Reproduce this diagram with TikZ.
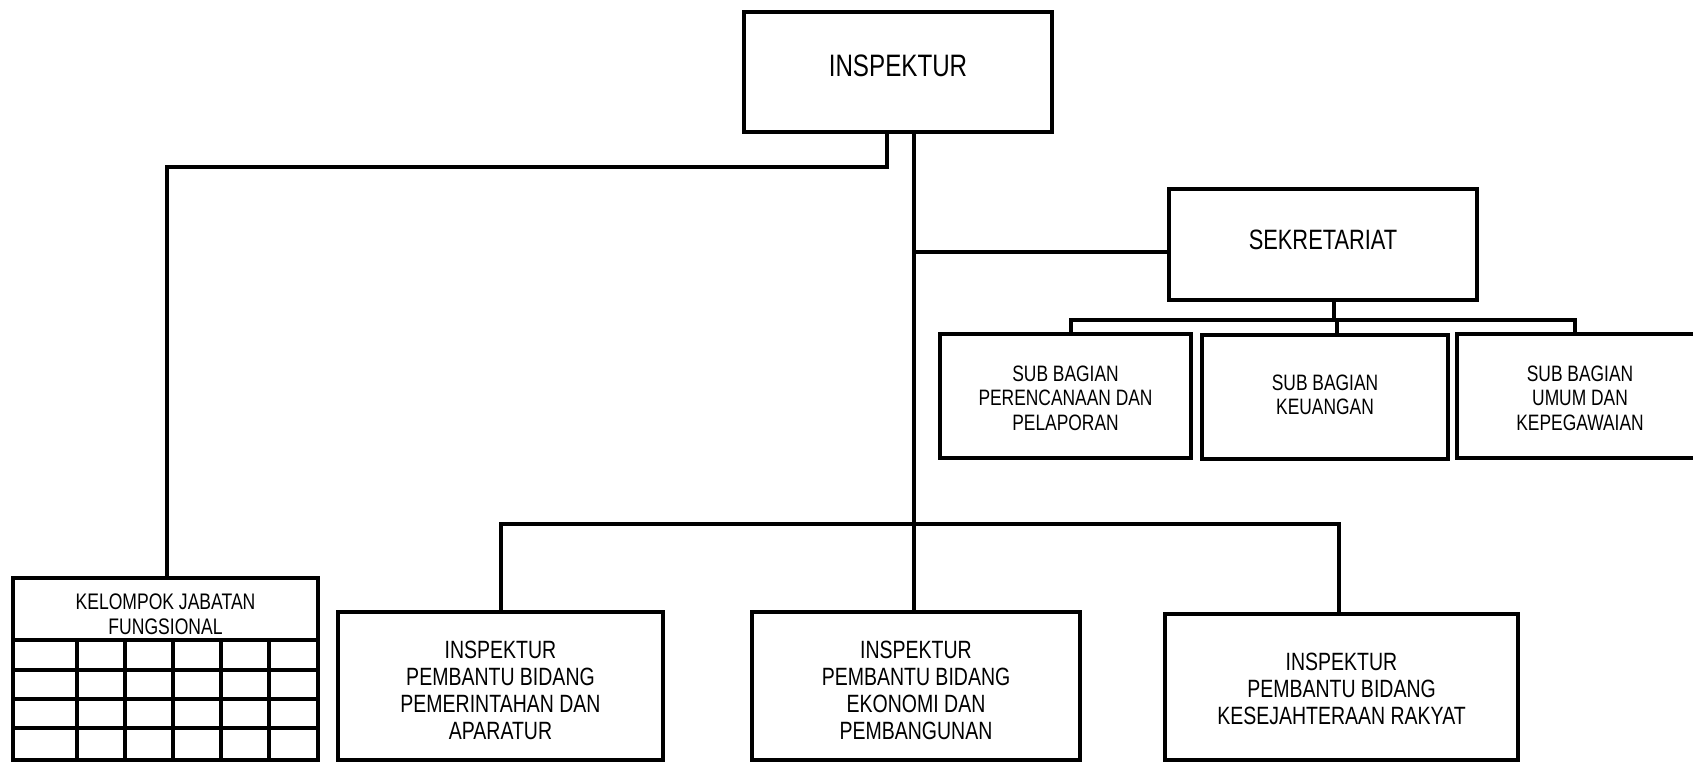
\documentclass[tikz,border=0pt]{standalone}
\usepackage{fontspec}
\setmainfont{Liberation Sans}[FakeStretch=0.78]
\newcommand{\boxtext}[2]{\raisebox{#1}[\height][\depth]{\begin{tabular}{@{}c@{}}#2\end{tabular}}}
\begin{document}
\begin{tikzpicture}[x=1pt,y=-1pt,
  box/.style={draw=black, line width=3.3pt, inner sep=0pt, fill=white},
  conn/.style={draw=black, line width=3.3pt},
  gridline/.style={draw=black, line width=3.3pt},
  ftop/.style={font=\fontsize{31}{35}\selectfont},
  fsek/.style={font=\fontsize{28}{32}\selectfont},
  fsub/.style={font=\fontsize{22.3}{24.5}\selectfont},
  fbot/.style={font=\fontsize{25}{26.8}\selectfont},
  fkel/.style={font=\fontsize{22.5}{24.5}\selectfont}]
\clip (0,0) rectangle (1693,762);
\fill[white] (0,0) rectangle (1693,762);

% nodes
\node[box, ftop, minimum width=308pt, minimum height=120pt] (insp) at (898,72) {\boxtext{2.35pt}{INSPEKTUR}};
\node[box, fsek, minimum width=308pt, minimum height=111pt] (sek) at (1323,244.5) {\boxtext{1.25pt}{SEKRETARIAT}};
\node[box, fsub, minimum width=251pt, minimum height=124pt] (sub1) at (1065.5,396) {\boxtext{-4.75pt}{SUB BAGIAN\\PERENCANAAN DAN\\PELAPORAN}};
\node[box, fsub, minimum width=246pt, minimum height=124pt] (sub2) at (1325,397) {\boxtext{-0.75pt}{SUB BAGIAN\\KEUANGAN}};
\node[box, fsub, minimum width=246pt, minimum height=124pt] (sub3) at (1580,396) {\boxtext{-4.75pt}{SUB BAGIAN\\UMUM DAN\\KEPEGAWAIAN}};
\node[box, fbot, minimum width=325pt, minimum height=148pt] (pa) at (500.5,686) {\boxtext{-7.7pt}{INSPEKTUR\\PEMBANTU BIDANG\\PEMERINTAHAN DAN\\APARATUR}};
\node[box, fbot, minimum width=328pt, minimum height=148pt] (pb) at (916,686) {\boxtext{-7.7pt}{INSPEKTUR\\PEMBANTU BIDANG\\EKONOMI DAN\\PEMBANGUNAN}};
\node[box, fbot, minimum width=353pt, minimum height=146pt] (pc) at (1341.5,687) {\boxtext{-5.4pt}{INSPEKTUR\\PEMBANTU BIDANG\\KESEJAHTERAAN RAKYAT}};
\node[box, fkel, minimum width=305pt, minimum height=62pt] (kel) at (165.5,609) {\boxtext{-8pt}{KELOMPOK JABATAN\\FUNGSIONAL}};

% grid of the functional group
\coordinate (g0) at (13,640);
\coordinate (g1) at (318,760);
\draw[gridline] (g0) rectangle (g1);
\foreach \yy in {670,699,728} \draw[gridline] (13,\yy) -- (318,\yy);
\foreach \xx in {77,125,173,221,269} \draw[gridline] (\xx,640) -- (\xx,760);

% junction coordinates
\coordinate (jl) at (887,167);
\coordinate (jk) at (167,167);
\coordinate (js) at (914,252);
\coordinate (jsd) at (1334,320);
\coordinate (jb1) at (1071,320);
\coordinate (jb2) at (1337,320);
\coordinate (jb3) at (1575,320);
\coordinate (jm) at (914,524);
\coordinate (jma) at (501,524);
\coordinate (jmc) at (1339,524);

% connectors
\draw[conn] (insp.south -| jl) -- (jl) -- (jk) -- (jk |- kel.north);
\draw[conn] (insp.south -| js) -- (js |- pb.north);
\draw[conn] (js) -- (js -| sek.west);
\draw[conn] (sek.south -| jsd) -- (jsd);
\draw[conn] (jb1 |- sub1.north) -- (jb1) -- (jb3) -- (jb3 |- sub3.north);
\draw[conn] (jb2) -- (jb2 |- sub2.north);
\draw[conn] (jma |- pa.north) -- (jma) -- (jmc) -- (jmc |- pc.north);
\end{tikzpicture}
\end{document}
